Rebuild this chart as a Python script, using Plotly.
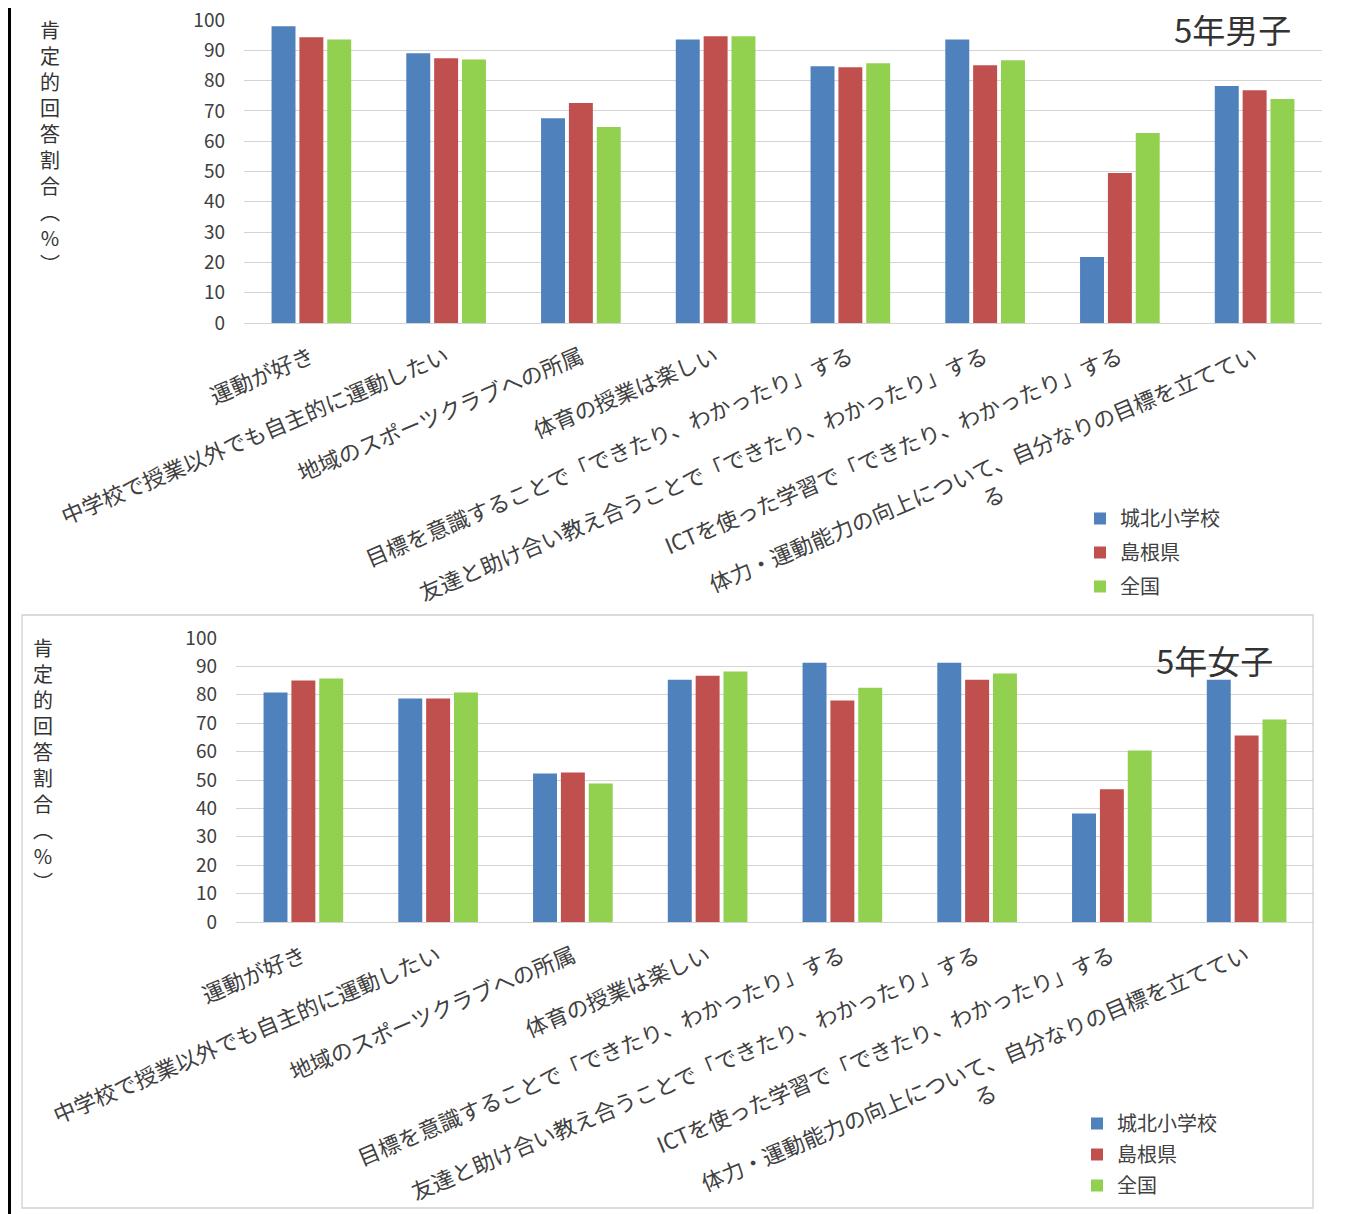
import plotly.graph_objects as go

categories = [
    "運動が好き",
    "中学校で授業以外でも自主的に運動したい",
    "地域のスポーツクラブへの所属",
    "体育の授業は楽しい",
    "目標を意識することで「できたり、わかったり」する",
    "友達と助け合い教え合うことで「できたり、わかったり」する",
    "ICTを使った学習で「できたり、わかったり」する",
    "体力・運動能力の向上について、自分なりの目標を立ててい<br>る" + "\u3000" * 13,
]
series_names = ["城北小学校", "島根県", "全国"]
colors = ["#4F81BD", "#C0504D", "#92D050"]

boys_school = [97.9, 89.0, 67.6, 93.6, 84.7, 93.6, 21.8, 78.2]
boys_pref = [94.3, 87.4, 72.6, 94.6, 84.4, 85.1, 49.5, 76.8]
boys_nation = [93.6, 87.0, 64.7, 94.6, 85.7, 86.7, 62.7, 73.9]

girls_school = [80.8, 78.7, 52.3, 85.3, 91.3, 91.3, 38.2, 85.3]
girls_pref = [85.0, 78.7, 52.6, 86.7, 78.0, 85.3, 46.7, 65.7]
girls_nation = [85.7, 80.8, 48.8, 88.2, 82.5, 87.5, 60.4, 71.3]

y_ticks = list(range(0, 101, 10))
y_title = "肯<br>定<br>的<br>回<br>答<br>割<br>合<br>︵<br>%<br>︶"

OFF = 8  # page body margin
W, H = 1351 - OFF, 1214 - OFF
FONT = "Noto Sans CJK JP"
TXT = "#404040"

fig = go.Figure()
boys = [boys_school, boys_pref, boys_nation]
girls = [girls_school, girls_pref, girls_nation]
for i, name in enumerate(series_names):
    fig.add_trace(go.Bar(x=categories, y=boys[i], name=name, marker_color=colors[i],
                         xaxis="x", yaxis="y", legend="legend", legendgroup="b%d" % i))
for i, name in enumerate(series_names):
    fig.add_trace(go.Bar(x=categories, y=girls[i], name=name, marker_color=colors[i],
                         xaxis="x2", yaxis="y2", legend="legend2", legendgroup="g%d" % i))

def px_x(p):
    return (p - OFF) / W

def px_y(p):
    return 1 - (p - OFF) / H

grid = dict(showgrid=True, gridcolor="#d4d4d4", gridwidth=1.3, zeroline=False,
            range=[0, 100], tickvals=y_ticks, ticks="", ticklabelstandoff=18,
            tickfont=dict(family=FONT, size=19, color=TXT), fixedrange=True,
            automargin=False, ticklabeloverflow="allow")
xcommon = dict(showline=True, linecolor="#d4d4d4", linewidth=1.3, tickangle=-23,
               ticks="", ticklabelstandoff=12, tickfont=dict(family=FONT, size=22, color=TXT),
               fixedrange=True, automargin=False)

legend_common = dict(font=dict(family=FONT, size=20, color=TXT), bgcolor="rgba(0,0,0,0)",
                     traceorder="grouped", itemwidth=30, xanchor="left",
                     yanchor="top", itemclick=False, itemdoubleclick=False)

ann_common = dict(xref="paper", yref="paper", showarrow=False, xanchor="center",
                  yanchor="middle")

fig.update_layout(
    template="none",
    width=W, height=H,
    margin=dict(l=0, r=0, t=0, b=0, autoexpand=False),
    paper_bgcolor="white", plot_bgcolor="white",
    bargap=0.38, bargroupgap=0.14, barmode="group",
    font=dict(family=FONT, color=TXT),
    xaxis=dict(domain=[px_x(244), px_x(1322)], anchor="y", **xcommon),
    yaxis=dict(domain=[px_y(323), px_y(20)], anchor="x", **grid),
    xaxis2=dict(domain=[px_x(236), px_x(1314)], anchor="y2", **xcommon),
    yaxis2=dict(domain=[px_y(922), px_y(638)], anchor="x2", **grid),
    legend=dict(x=px_x(1080), y=px_y(499), tracegroupgap=5, **legend_common),
    legend2=dict(x=px_x(1077), y=px_y(1104), tracegroupgap=2, **legend_common),
    shapes=[
        dict(type="line", xref="paper", yref="paper", x0=px_x(9), x1=px_x(9), y0=0, y1=1,
             line=dict(color="black", width=4)),
        dict(type="rect", xref="paper", yref="paper", x0=px_x(22), x1=px_x(1313),
             y0=px_y(1208), y1=px_y(615), line=dict(color="#d0d0d0", width=1.3)),
    ],
    annotations=[
        dict(text=y_title, x=px_x(50), y=px_y(147),
             font=dict(family=FONT, size=20, color="#333333"), **ann_common),
        dict(text=y_title, x=px_x(43), y=px_y(764),
             font=dict(family=FONT, size=20, color="#333333"), **ann_common),
        dict(text="5年男子", x=px_x(1232), y=px_y(29),
             font=dict(family=FONT, size=33, color="#333333"), **ann_common),
        dict(text="5年女子", x=px_x(1214), y=px_y(660),
             font=dict(family=FONT, size=33, color="#333333"), **ann_common),
    ],
)

fig.write_html("out.html")
